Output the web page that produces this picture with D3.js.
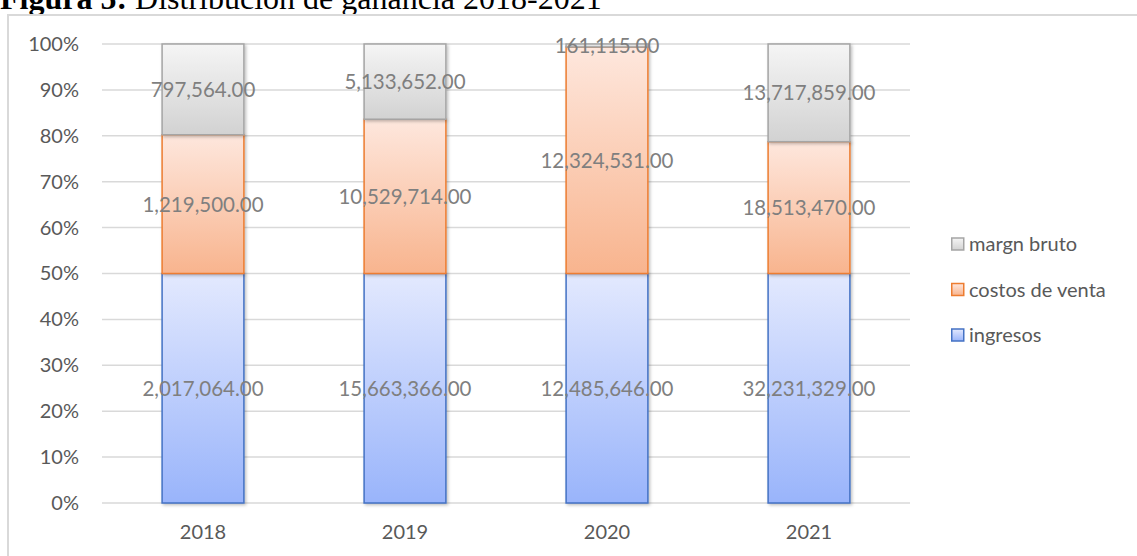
<!DOCTYPE html>
<html>
<head>
<meta charset="utf-8">
<script src="https://cdn.jsdelivr.net/npm/d3@7"></script>
<style>
  body { margin: 0; background: #fff; }
  svg { display: block; }
</style>
</head>
<body>
<div id="chart"></div>
<script>
// data
const years = ["2018", "2019", "2020", "2021"];
const ingresos = [2017064, 15663366, 12485646, 32231329];
const costos = [1219500, 10529714, 12324531, 18513470];
const margen = [797564, 5133652, 161115, 13717859];
const seriesNames = ["ingresos", "costos de venta", "margn bruto"];
const yTicks = [0, 0.1, 0.2, 0.3, 0.4, 0.5, 0.6, 0.7, 0.8, 0.9, 1];

const W = 1137, H = 556;
const margin = {top: 44, right: 227, bottom: 53, left: 102};
const width = W - margin.left - margin.right,
      height = H - margin.top - margin.bottom;

const svg = d3.select("#chart")
  .append("svg")
    .attr("width", W)
    .attr("height", H);

const defs = svg.append("defs");
const fills = [
  {id: "gBlue", top: "#e3e9fe", bottom: "#99b4fb", stroke: "#4472c4"},
  {id: "gOrange", top: "#fee7dd", bottom: "#f8b48e", stroke: "#ed7d31"},
  {id: "gGray", top: "#f5f5f5", bottom: "#d2d2d2", stroke: "#a5a5a5"}
];
fills.forEach(f => {
  const g = defs.append("linearGradient")
    .attr("id", f.id).attr("x1", 0).attr("y1", 0).attr("x2", 0).attr("y2", 1);
  g.append("stop").attr("offset", "0%").attr("stop-color", f.top);
  g.append("stop").attr("offset", "100%").attr("stop-color", f.bottom);
});
defs.append("filter").attr("id", "shadow")
  .attr("x", "-10%").attr("y", "-10%").attr("width", "130%").attr("height", "130%")
  .append("feDropShadow")
    .attr("dx", 1.5).attr("dy", 1.5).attr("stdDeviation", 1.5)
    .attr("flood-color", "#000").attr("flood-opacity", 0.25);

// title (cut off at the top, as in the picture)
const title = svg.append("text")
  .attr("x", 0).attr("y", 9)
  .style("font-family", "'Liberation Serif', 'Times New Roman', serif")
  .style("font-size", "32px")
  .attr("fill", "#000");
title.append("tspan").style("font-weight", "bold").text("Figura 5:");
title.append("tspan").text(" Distribución de ganancia 2018-2021");

// chart border
svg.append("rect")
  .attr("x", 8).attr("y", 15)
  .attr("width", W + 10).attr("height", H + 10)
  .attr("fill", "none")
  .attr("stroke", "#d9d9d9")
  .attr("stroke-width", 2);

const g = svg.append("g")
  .attr("transform", `translate(${margin.left}, ${margin.top})`);

const x = d3.scaleBand()
  .domain(years)
  .range([0, width])
  .paddingInner(0.595)
  .paddingOuter(0.2975);

const y = d3.scaleLinear()
  .domain([0, 1])
  .range([height, 0]);

const font = "Lato, 'Open Sans', sans-serif";

// grid lines
g.selectAll(".grid")
  .data(yTicks)
  .join("line")
    .attr("class", "grid")
    .attr("x1", 0).attr("x2", width)
    .attr("y1", d => y(d)).attr("y2", d => y(d))
    .attr("stroke", "#d9d9d9")
    .attr("stroke-width", 1.5);

// Y axis
const yAxis = g.append("g")
  .call(d3.axisLeft(y).tickValues(yTicks).tickFormat(d3.format(".0%")).tickSize(0).tickPadding(23));
yAxis.select(".domain").remove();
yAxis.selectAll("text")
  .style("font-family", font)
  .style("font-size", "20px")
  .attr("fill", "#595959");

// X axis
const xAxis = g.append("g")
  .attr("transform", `translate(0, ${height})`)
  .call(d3.axisBottom(x).tickSize(0).tickPadding(22));
xAxis.select(".domain").remove();
xAxis.selectAll("text")
  .style("font-family", font)
  .style("font-size", "20px")
  .attr("fill", "#595959");

// stack to 100%
const rows = years.map((yr, i) => ({
  year: yr, ingresos: ingresos[i], costos: costos[i], margen: margen[i]
}));
const keys = ["ingresos", "costos", "margen"];
const stacked = d3.stack().keys(keys).offset(d3.stackOffsetExpand)(rows);

const layers = g.selectAll(".layer")
  .data(stacked)
  .join("g")
    .attr("class", "layer");

layers.selectAll("rect")
  .data((d, i) => d.map(p => ({p: p, s: i})))
  .join("rect")
    .attr("x", d => x(d.p.data.year))
    .attr("width", x.bandwidth())
    .attr("y", d => y(d.p[1]))
    .attr("height", d => y(d.p[0]) - y(d.p[1]))
    .attr("fill", d => `url(#${fills[d.s].id})`)
    .attr("stroke", d => fills[d.s].stroke)
    .attr("stroke-width", 1.5)
    .attr("filter", "url(#shadow)");

// value labels
const fmt = d3.format(",.2f");
layers.selectAll("text")
  .data((d, i) => d.map(p => ({p: p, key: keys[i]})))
  .join("text")
    .attr("x", d => x(d.p.data.year) + x.bandwidth() / 2)
    .attr("y", d => y((d.p[0] + d.p[1]) / 2))
    .attr("dy", "0.36em")
    .attr("text-anchor", "middle")
    .style("font-family", font)
    .style("font-size", "20.5px")
    .attr("fill", "#7f7f7f")
    .text(d => fmt(d.p.data[d.key]));

// legend
const legend = svg.append("g")
  .attr("transform", "translate(951, 244)");
const legendItems = [2, 1, 0];
legendItems.forEach((s, i) => {
  const item = legend.append("g").attr("transform", `translate(0, ${i * 45.5})`);
  item.append("rect")
    .attr("x", 0.75).attr("y", -6)
    .attr("width", 12).attr("height", 12)
    .attr("fill", `url(#${fills[s].id})`)
    .attr("stroke", fills[s].stroke)
    .attr("stroke-width", 1.5);
  item.append("text")
    .attr("x", 18).attr("y", 0).attr("dy", "0.36em")
    .style("font-family", font)
    .style("font-size", "20px")
    .attr("fill", "#595959")
    .text(seriesNames[s]);
});
</script>
</body>
</html>
